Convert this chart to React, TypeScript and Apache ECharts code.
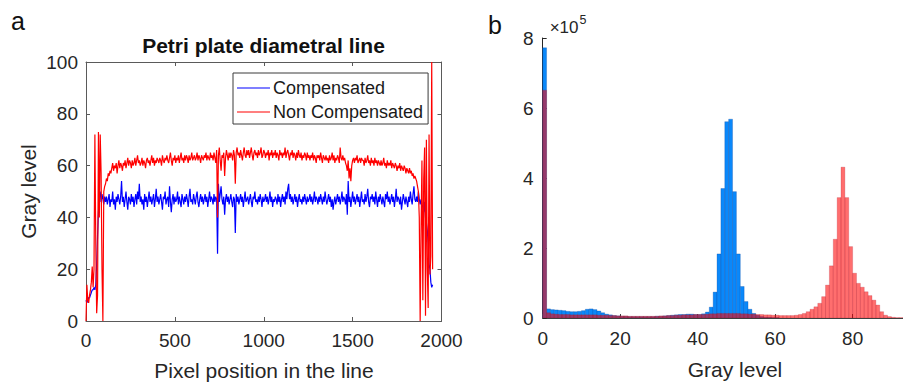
import React, { useEffect, useRef } from "react";
import * as echarts from "echarts";

// ---------- Panel a: gray level along the diametral line (sampled every 5 px) ----------
const PIXEL_STEP = 5;
const compensated = [
  8, 7, 8, 9, 9, 10, 11, 12, 12, 13, 12, 14, 22, 33, 42, 48, 50, 46, 49, 47, 45, 48,
  46, 48, 45, 47, 49, 44, 47, 46, 50, 45,
  47, 43, 48, 46, 49, 47, 45, 48, 54, 46,
  48, 44, 47, 50, 46, 43, 48, 47, 45, 49,
  46, 48, 44, 47, 49, 45, 50, 47, 53, 46,
  48, 45, 47, 43, 49, 46, 48, 44, 47, 50,
  46, 48, 45, 47, 49, 44, 47, 51, 46, 48,
  45, 47, 49, 46, 43, 48, 47, 50, 45, 47,
  48, 44, 52, 46, 42, 47, 49, 45, 48, 46,
  47, 50, 45, 48, 46, 44, 49, 47, 45, 48,
  46, 49, 47, 44, 48, 51, 46, 47, 45, 49,
  47, 45, 48, 50, 46, 44, 47, 49, 46, 48,
  45, 47, 49, 46, 48, 44, 47, 50, 46, 48,
  47, 45, 49, 46, 48, 47, 26, 53, 46, 49,
  52, 47, 45, 48, 41, 47, 49, 46, 48, 45,
  47, 49, 46, 44, 48, 47, 34, 49, 46, 48,
  45, 47, 49, 46, 48, 44, 47, 50, 46, 47,
  48, 45, 47, 49, 46, 44, 48, 47, 50, 46,
  47, 45, 48, 46, 49, 47, 44, 48, 46, 47,
  49, 46, 48, 45, 47, 50, 46, 48, 44, 47,
  46, 48, 47, 45, 49, 46, 48, 44, 47, 49,
  46, 48, 45, 50, 47, 51, 53, 47, 49, 46,
  48, 45, 47, 49, 46, 48, 44, 47, 49, 46,
  47, 45, 48, 46, 49, 47, 45, 48, 46, 47,
  49, 46, 48, 45, 47, 50, 46, 48, 47, 45,
  48, 46, 49, 47, 45, 48, 46, 50, 47, 45,
  47, 49, 46, 48, 44, 47, 43, 46, 48, 45,
  47, 49, 46, 48, 45, 47, 50, 46, 48, 47,
  45, 49, 41, 54, 46, 48, 44, 47, 50, 46,
  48, 45, 47, 49, 46, 48, 44, 47, 50, 46,
  47, 45, 49, 46, 48, 51, 46, 44, 48, 47,
  49, 46, 48, 45, 50, 47, 44, 48, 46, 49,
  47, 45, 48, 46, 44, 49, 47, 50, 46, 48,
  45, 47, 49, 46, 48, 44, 47, 51, 46, 48,
  47, 45, 48, 43, 46, 49, 47, 45, 48, 46,
  44, 48, 46, 50, 47, 45, 49, 52, 47, 46,
  48, 46, 50, 47, 45, 47, 45, 44, 42, 46, 40, 38, 35, 30, 22, 20, 15, 13, 14,
];
const nonCompensated = [
  0, 14, 8, 7, 10, 12, 15, 21, 13, 20, 72, 30, 3, 10, 73, 40, 72, 57, 20, 0, 50, 52,
  53, 55, 54, 57, 56, 58, 57, 59, 61, 58,
  60, 59, 61, 57, 60, 62, 59, 61, 60, 58,
  61, 60, 62, 59, 61, 63, 60, 62, 61, 59,
  62, 60, 61, 63, 60, 62, 64, 61, 62, 60,
  61, 63, 60, 62, 61, 59, 62, 63, 61, 62,
  60, 62, 64, 61, 63, 60, 62, 61, 63, 62,
  61, 63, 62, 60, 64, 62, 61, 63, 62, 64,
  62, 61, 63, 65, 62, 60, 63, 62, 64, 61,
  63, 62, 64, 61, 63, 65, 62, 63, 61, 64,
  62, 64, 63, 61, 64, 62, 63, 65, 62, 63,
  64, 62, 63, 65, 62, 64, 63, 61, 64, 63,
  62, 64, 63, 65, 62, 64, 63, 62, 65, 63,
  64, 62, 65, 63, 61, 66, 40, 64, 67, 62,
  58, 64, 63, 65, 56, 63, 66, 64, 62, 65,
  63, 65, 64, 62, 66, 64, 53, 65, 67, 64,
  65, 63, 66, 64, 62, 65, 67, 64, 63, 66,
  64, 66, 63, 65, 67, 64, 62, 65, 66, 64,
  65, 63, 66, 64, 65, 67, 63, 64, 66, 65,
  63, 65, 64, 66, 62, 65, 64, 66, 63, 65,
  64, 66, 63, 65, 64, 62, 66, 64, 65, 63,
  65, 64, 67, 63, 65, 66, 64, 62, 65, 64,
  66, 63, 65, 64, 62, 65, 63, 66, 64, 63,
  65, 62, 64, 63, 65, 64, 62, 65, 63, 64,
  62, 64, 63, 65, 62, 64, 63, 61, 64, 63,
  64, 62, 65, 63, 61, 64, 63, 62, 64, 62,
  63, 61, 64, 62, 63, 65, 62, 64, 61, 63,
  62, 64, 63, 61, 67, 63, 62, 64, 62, 63,
  61, 60, 58, 62, 55, 59, 54, 60, 62, 63,
  61, 63, 62, 64, 61, 62, 63, 61, 63, 62,
  62, 60, 63, 61, 62, 64, 61, 62, 60, 63,
  61, 62, 60, 63, 61, 62, 60, 62, 61, 60,
  62, 60, 61, 63, 60, 61, 59, 62, 60, 61,
  60, 62, 59, 61, 60, 59, 61, 60, 58, 60,
  59, 61, 58, 60, 59, 58, 60, 59, 57, 59,
  58, 57, 59, 57, 58, 56, 57, 55, 56, 55,
  54, 52, 50, 40, 0, 35, 62, 8, 55, 67, 2, 70, 20, 5, 72, 18, 25, 100, 20,
];
const xTicksA = [0, 500, 1000, 1500, 2000];
const yTicksA = [0, 20, 40, 60, 80, 100];

// ---------- Panel b: histogram (counts in units of 1e5, bins of width 1) ----------
const histCompensated = [
  7.72, 0.26, 0.24, 0.23, 0.22, 0.21, 0.19, 0.18, 0.18, 0.19,
  0.21, 0.25, 0.26, 0.24, 0.2, 0.15, 0.11, 0.09, 0.07, 0.06,
  0.05, 0.05, 0.04, 0.04, 0.04, 0.04, 0.04, 0.04, 0.04, 0.05,
  0.05, 0.06, 0.07, 0.08, 0.09, 0.1, 0.1, 0.11, 0.11, 0.1,
  0.1, 0.12, 0.17, 0.31, 0.74, 1.83, 3.7, 5.61, 5.68, 3.61,
  1.83, 0.9, 0.47, 0.25, 0.13, 0.08, 0.04, 0.02, 0.02, 0.01,
  0.01, 0, 0, 0, 0, 0, 0, 0, 0, 0,
  0, 0, 0, 0, 0, 0, 0, 0, 0, 0,
  0, 0, 0, 0, 0, 0, 0, 0, 0, 0,
  0, 0, 0,
];
const histNonCompensated = [
  6.51, 0.15, 0.12, 0.11, 0.1, 0.1, 0.1, 0.09, 0.09, 0.09,
  0.09, 0.09, 0.09, 0.09, 0.08, 0.08, 0.08, 0.07, 0.07, 0.06,
  0.06, 0.06, 0.05, 0.05, 0.05, 0.05, 0.05, 0.05, 0.05, 0.05,
  0.06, 0.06, 0.07, 0.07, 0.08, 0.08, 0.09, 0.09, 0.09, 0.1,
  0.1, 0.1, 0.11, 0.12, 0.12, 0.13, 0.13, 0.13, 0.13, 0.13,
  0.13, 0.12, 0.12, 0.11, 0.11, 0.1, 0.1, 0.09, 0.09, 0.08,
  0.08, 0.07, 0.07, 0.07, 0.07, 0.08, 0.1, 0.13, 0.18, 0.25,
  0.32, 0.42, 0.61, 0.94, 1.49, 2.25, 3.44, 4.31, 3.44, 2.04,
  1.28, 0.99, 0.88, 0.75, 0.64, 0.51, 0.37, 0.18, 0.08, 0.04,
  0.02, 0.01, 0.01,
];
const xTicksB = [0, 20, 40, 60, 80];
const yTicksB = [0, 2, 4, 6, 8];

const FONT = "'Liberation Sans', Arial, Helvetica, sans-serif";
const TXT = "#262626";

export default function App() {
  const ref = useRef<HTMLDivElement>(null);

  useEffect(() => {
    if (!ref.current) return;
    const chart = echarts.init(ref.current, undefined, { renderer: "svg" });

    const lineBlue = compensated.map((v, i) => [i * PIXEL_STEP, v]);
    const lineRed = nonCompensated.map((v, i) => [i * PIXEL_STEP, v]);
    const hb = histCompensated.map((v, i) => [i, v]);
    const hr = histNonCompensated.map((v, i) => [i, v]);

    const histRender = (fill: string, stroke: string) => (params: any, api: any) => {
      const i = api.value(0);
      const v = api.value(1);
      if (!v) return null;
      const p0 = api.coord([i, 0]);
      const p1 = api.coord([i + 1, v]);
      return {
        type: "rect",
        shape: { x: p0[0], y: p1[1], width: p1[0] - p0[0], height: p0[1] - p1[1] },
        style: { fill, stroke, lineWidth: 0.6 },
      };
    };

    const boxAxisA = "#5a5a5a";
    const tickLabel = { color: TXT, fontSize: 19, fontFamily: FONT };

    chart.setOption({
      animation: false,
      backgroundColor: "#fff",
      textStyle: { fontFamily: FONT },
      grid: [
        { left: 86, top: 62, width: 355.5, height: 259 },
        { left: 542.7, top: 38, right: 0, height: 280 },
      ],
      xAxis: [
        {
          type: "value", gridIndex: 0, min: 0, max: 2000, interval: 500, position: "bottom",
          axisLine: { show: true, lineStyle: { color: boxAxisA, width: 1 } },
          axisTick: { show: true, inside: true, length: 4, lineStyle: { color: boxAxisA } },
          axisLabel: { ...tickLabel, margin: 10, formatter: (v: number) => (xTicksA.includes(v) ? String(v) : "") },
          splitLine: { show: false },
        },
        {
          type: "value", gridIndex: 0, min: 0, max: 2000, interval: 500, position: "top",
          axisLine: { show: true, onZero: false, lineStyle: { color: boxAxisA, width: 1 } },
          axisTick: { show: true, inside: true, length: 4, lineStyle: { color: boxAxisA } },
          axisLabel: { show: false },
          splitLine: { show: false },
        },
        {
          type: "value", gridIndex: 1, min: 0, max: 93, interval: 20,
          axisLine: { show: true, lineStyle: { color: "#404040", width: 1 } },
          axisTick: { show: true, inside: true, length: 4, lineStyle: { color: "#404040" } },
          axisLabel: { ...tickLabel, margin: 11, showMaxLabel: false, formatter: (v: number) => (xTicksB.includes(v) ? String(v) : "") },
          splitLine: { show: false },
        },
      ],
      yAxis: [
        {
          type: "value", gridIndex: 0, min: 0, max: 100, interval: 20, position: "left",
          axisLine: { show: true, lineStyle: { color: boxAxisA, width: 1 } },
          axisTick: { show: true, inside: true, length: 4, lineStyle: { color: boxAxisA } },
          axisLabel: { ...tickLabel, margin: 8, formatter: (v: number) => (yTicksA.includes(v) ? String(v) : "") },
          splitLine: { show: false },
        },
        {
          type: "value", gridIndex: 0, min: 0, max: 100, interval: 20, position: "right",
          axisLine: { show: true, onZero: false, lineStyle: { color: boxAxisA, width: 1 } },
          axisTick: { show: true, inside: true, length: 4, lineStyle: { color: boxAxisA } },
          axisLabel: { show: false },
          splitLine: { show: false },
        },
        {
          type: "value", gridIndex: 1, min: 0, max: 8, interval: 2,
          axisLine: { show: true, lineStyle: { color: "#262626", width: 1 } },
          axisTick: { show: true, inside: true, length: 4, lineStyle: { color: "#262626" } },
          axisLabel: { ...tickLabel, margin: 9, formatter: (v: number) => (yTicksB.includes(v) ? String(v) : "") },
          splitLine: { show: false },
        },
      ],
      legend: {
        show: true,
        orient: "vertical",
        left: 233,
        top: 73,
        padding: [6, 5, 3, 4],
        itemGap: 6,
        itemWidth: 33,
        itemHeight: 1.2,
        icon: "rect",
        borderColor: "#3a3a3a",
        borderWidth: 1,
        backgroundColor: "#fff",
        textStyle: { color: "#1a1a1a", fontSize: 18, fontFamily: FONT, padding: [0, 0, 0, -2] },
        data: ["Compensated", "Non Compensated"],
      },
      series: [
        {
          name: "Compensated", type: "line", xAxisIndex: 0, yAxisIndex: 0,
          data: lineBlue, symbol: "none", showSymbol: false,
          lineStyle: { color: "#0000ff", width: 1.2 }, itemStyle: { color: "#0000ff" },
          clip: true, z: 2,
        },
        {
          name: "Non Compensated", type: "line", xAxisIndex: 0, yAxisIndex: 0,
          data: lineRed, symbol: "none", showSymbol: false,
          lineStyle: { color: "#ff0000", width: 1.2 }, itemStyle: { color: "#ff0000" },
          clip: true, z: 3,
        },
        {
          name: "histCompensated", type: "custom", xAxisIndex: 2, yAxisIndex: 2,
          data: hb, encode: { x: 0, y: 1 }, clip: true, z: 2,
          renderItem: histRender("#0a88fa", "rgba(0,60,150,0.45)"),
        },
        {
          name: "histNonCompensated", type: "custom", xAxisIndex: 2, yAxisIndex: 2,
          data: hr, encode: { x: 0, y: 1 }, clip: true, z: 3,
          renderItem: histRender("rgba(255,0,0,0.57)", "rgba(170,20,40,0.35)"),
        },
      ],
      graphic: [
        { type: "text", x: 11, y: 21.3, style: { text: "a", fontSize: 25, fontFamily: FONT, fill: "#111", align: "left", verticalAlign: "middle" } },
        { type: "text", x: 488, y: 24.6, style: { text: "b", fontSize: 25, fontFamily: FONT, fill: "#111", align: "left", verticalAlign: "middle" } },
        { type: "text", x: 263.5, y: 45, style: { text: "Petri plate diametral line", fontSize: 21, fontWeight: "bold", fontFamily: FONT, fill: "#111", align: "center", verticalAlign: "middle" } },
        { type: "text", x: 264, y: 370.3, style: { text: "Pixel position in the line", fontSize: 21, fontFamily: FONT, fill: TXT, align: "center", verticalAlign: "middle" } },
        { type: "text", x: 28.3, y: 191.5, rotation: Math.PI / 2, style: { text: "Gray level", fontSize: 21, fontFamily: FONT, fill: TXT, align: "center", verticalAlign: "middle" } },
        { type: "text", x: 735, y: 369, style: { text: "Gray level", fontSize: 21, fontFamily: FONT, fill: TXT, align: "center", verticalAlign: "middle" } },
        { type: "text", x: 578.5, y: 27.5, style: { text: "×10", fontSize: 17, fontFamily: FONT, fill: TXT, align: "right", verticalAlign: "middle" } },
        { type: "text", x: 579.5, y: 19.5, style: { text: "5", fontSize: 12.5, fontFamily: FONT, fill: TXT, align: "left", verticalAlign: "middle" } },
      ],
    });

    return () => chart.dispose();
  }, []);

  return (
    <div
      ref={ref}
      style={{ position: "fixed", left: 0, top: 0, width: 903, height: 382, background: "#fff" }}
    />
  );
}
